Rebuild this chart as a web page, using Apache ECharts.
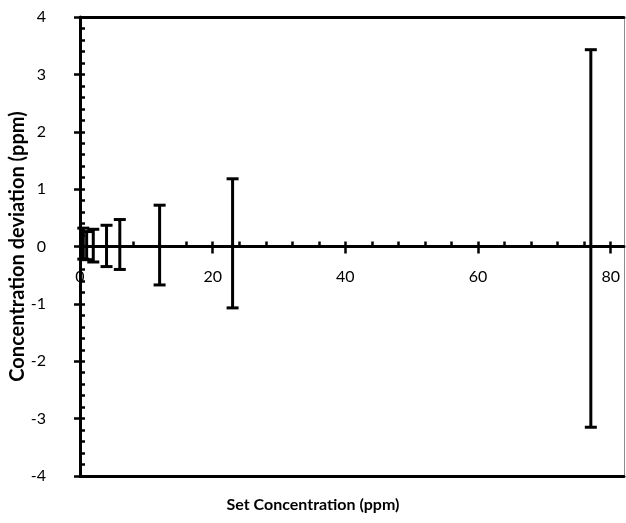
<!DOCTYPE html>
<html>
<head>
<meta charset="utf-8">
<script src="https://cdn.jsdelivr.net/npm/echarts@6/dist/echarts.min.js"></script>
<style>
html,body{margin:0;padding:0;background:#fff;}
#chart{width:626px;height:523px;}
</style>
</head>
<body>
<div id="chart"></div>
<script>
// Data
var setConc = [0.5, 1, 2, 4, 6, 12, 23, 77];
var errHigh = [0.32, 0.26, 0.30, 0.37, 0.47, 0.72, 1.18, 3.43];
var errLow  = [-0.22, -0.23, -0.27, -0.35, -0.40, -0.67, -1.07, -3.15];
var xTicks = [0, 20, 40, 60, 80];
var xMinorTicks = [0, 4, 8, 12, 16, 20, 24, 28, 32, 36, 40, 44, 48, 52, 56, 60, 64, 68, 72, 76, 80];
var yTicks = [-4, -3, -2, -1, 0, 1, 2, 3, 4];

var FONT = 'Lato';
var GRID = {left: 80, right: 2, top: 17, bottom: 47};
var H = 523 - GRID.top - GRID.bottom;
var zeroOffset = -H / 2; // y range is symmetric, so 0 sits in the middle of the plot
var errData = setConc.map(function (x, i) { return [x, errLow[i], errHigh[i]]; });

var chart = echarts.init(document.getElementById('chart'), null, {renderer: 'canvas'});
chart.setOption({
  animation: false,
  backgroundColor: '#fff',
  title: {
    text: 'Set Concentration (ppm)', left: 'center', bottom: 5,
    textStyle: {fontFamily: FONT, fontWeight: 'bold', fontSize: 16, color: '#000'}
  },
  grid: {left: GRID.left, right: GRID.right, top: GRID.top, bottom: GRID.bottom, containLabel: false, outerBoundsMode: 'none'},
  xAxis: [
    { // zero line with labels and downward major ticks
      type: 'value', min: 0, max: 82, position: 'bottom', offset: zeroOffset,
      axisLine: {show: true, onZero: false, lineStyle: {color: '#000', width: 3}},
      axisTick: {show: true, inside: false, length: 7, customValues: xTicks, lineStyle: {color: '#000', width: 2.5}},
      axisLabel: {show: true, margin: 22, color: '#000', fontFamily: FONT, fontSize: 16, customValues: xTicks},
      splitLine: {show: false}
    },
    { // minor ticks above the zero line
      type: 'value', min: 0, max: 82, position: 'bottom', offset: zeroOffset,
      axisLine: {show: false, onZero: false},
      axisTick: {show: true, inside: true, length: 5, customValues: xMinorTicks, lineStyle: {color: '#000', width: 2.5}},
      axisLabel: {show: false}, splitLine: {show: false}
    },
    { // bottom border
      type: 'value', min: 0, max: 82, position: 'bottom',
      axisLine: {show: true, onZero: false, lineStyle: {color: '#000', width: 3}},
      axisTick: {show: false}, axisLabel: {show: false}, splitLine: {show: false}
    },
    { // top border
      type: 'value', min: 0, max: 82, position: 'top',
      axisLine: {show: true, onZero: false, lineStyle: {color: '#000', width: 3}},
      axisTick: {show: false}, axisLabel: {show: false}, splitLine: {show: false}
    }
  ],
  yAxis: [
    {
      type: 'value', min: -4, max: 4, interval: 1, position: 'left',
      axisLine: {show: true, onZero: false, lineStyle: {color: '#000', width: 3}},
      axisTick: {show: true, inside: false, length: 6, lineStyle: {color: '#000', width: 2.5}},
      axisLabel: {show: true, margin: 34, color: '#000', fontFamily: FONT, fontSize: 16, align: 'right', customValues: yTicks},
      splitLine: {show: false},
      name: 'Concentration deviation (ppm)', nameLocation: 'middle', nameGap: 52, nameRotate: 90,
      nameMoveOverlap: false,
      nameTextStyle: {fontFamily: FONT, fontWeight: 'bold', fontSize: 20, color: '#000'}
    },
    { // inward minor ticks every 0.2
      type: 'value', min: -4, max: 4, interval: 0.2, position: 'left',
      axisLine: {show: false, onZero: false},
      axisTick: {show: true, inside: true, length: 5, lineStyle: {color: '#000', width: 2.5}},
      axisLabel: {show: false}, splitLine: {show: false}
    },
    { // thin gray right border
      type: 'value', min: -4, max: 4, position: 'right',
      axisLine: {show: true, onZero: false, lineStyle: {color: '#8c8c8c', width: 1}},
      axisTick: {show: false}, axisLabel: {show: false}, splitLine: {show: false}
    }
  ],
  series: [{
    type: 'custom',
    xAxisIndex: 0, yAxisIndex: 0,
    data: errData,
    clip: false,
    renderItem: function (params, api) {
      var x = api.value(0);
      var lo = api.coord([x, api.value(1)]);
      var hi = api.coord([x, api.value(2)]);
      var hw = 6;
      var st = {stroke: '#000', lineWidth: 3, fill: null};
      return {
        type: 'group',
        children: [
          {type: 'line', shape: {x1: hi[0], y1: hi[1], x2: lo[0], y2: lo[1]}, style: st},
          {type: 'line', shape: {x1: hi[0] - hw, y1: hi[1], x2: hi[0] + hw, y2: hi[1]}, style: st},
          {type: 'line', shape: {x1: lo[0] - hw, y1: lo[1], x2: lo[0] + hw, y2: lo[1]}, style: st}
        ]
      };
    }
  }]
});
</script>
</body>
</html>
